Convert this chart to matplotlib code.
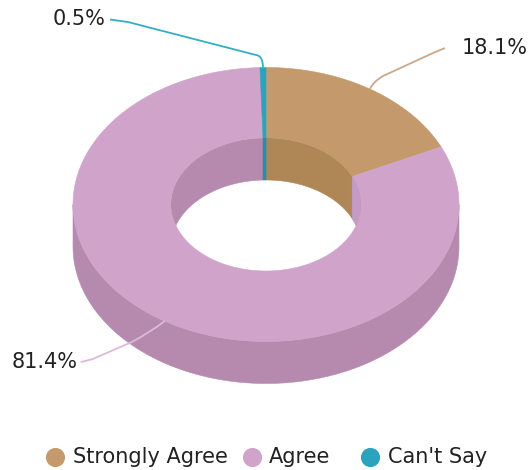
import numpy as np
import matplotlib
matplotlib.use("Agg")
import matplotlib.pyplot as plt
from matplotlib.patches import Polygon, Ellipse, PathPatch
from matplotlib.path import Path

categories = ["Strongly Agree", "Agree", "Can't Say"]
values = [18.1, 81.4, 0.5]
labels = ["18.1%", "81.4%", "0.5%"]
top_colors = ["#C49A6C", "#D0A3CB", "#2BA3BE"]
side_colors = ["#AF8656", "#B689AE", "#2290A8"]
line_colors = ["#C9A98A", "#DDBAD8", "#35AEC4"]

W, H = 529, 470
CX, CY = 266, 204.5
RX, RY = 193, 137
IRX, IRY = 95, 66.5
DEPTH = 42
FS = 15.0

fig = plt.figure(figsize=(W / 100, H / 100), dpi=100)
ax = fig.add_axes([0, 0, 1, 1])
ax.set_xlim(0, W)
ax.set_ylim(H, 0)
ax.axis("off")


def pt(deg, rx, ry, dy=0.0):
    a = np.radians(deg)
    return np.column_stack([CX + rx * np.sin(a), CY - ry * np.cos(a) + dy])


def arc(a0, a1):
    return np.linspace(a0, a1, max(int(abs(a1 - a0) * 2), 2))


total = sum(values)
edges = np.concatenate([[0], np.cumsum(values) / total * 360])

# outer side wall (front half)
for i in range(3):
    a0, a1 = max(edges[i], 90), min(edges[i + 1], 270)
    if a1 > a0:
        t = arc(a0, a1)
        ax.add_patch(Polygon(np.vstack([pt(t, RX, RY), pt(t[::-1], RX, RY, DEPTH)]),
                             fc=side_colors[i], ec=side_colors[i], lw=0.4, zorder=1))

# top face
for i in range(3):
    t = arc(edges[i], edges[i + 1])
    ax.add_patch(Polygon(np.vstack([pt(t, RX, RY), pt(t[::-1], IRX, IRY)]),
                         fc=top_colors[i], ec=top_colors[i], lw=0.4, zorder=2))

# inner wall (back half, seen through the hole)
hole = Ellipse((CX, CY), 2 * IRX, 2 * IRY, transform=ax.transData, fc="none", ec="none")
ax.add_patch(hole)
for i in range(3):
    spans = [(edges[i], min(edges[i + 1], 90)), (max(edges[i], 270), edges[i + 1])]
    for a0, a1 in spans:
        if a1 > a0:
            t = arc(a0, a1)
            p = Polygon(np.vstack([pt(t, IRX, IRY), pt(t[::-1], IRX, IRY, DEPTH)]),
                        fc=side_colors[i], ec=side_colors[i], lw=0.4, zorder=3)
            ax.add_patch(p)
            p.set_clip_path(hole)
# light sliver right of the brown wall
t = arc(edges[1], 90)
p = Polygon(np.vstack([pt(t, IRX, IRY), pt(t[::-1], IRX, IRY, DEPTH)]),
            fc="#C39BC4", ec="#C39BC4", lw=0.4, zorder=3)
ax.add_patch(p)
p.set_clip_path(hole)

# leader lines and labels
mid = (edges[:-1] + edges[1:]) / 2
leader_verts = [
    [(0, 0), (3, -7), (13, -13), (63, -36), (75, -41)],
    [(0, 0), (-14, 11), (-33, 21), (-72, 38), (-84, 41)],
    [(0, 0), (0, -10), (-5, -12), (-135, -45.5), (-153, -48)],
]
C3, LT = Path.CURVE3, Path.LINETO
text_pos = [(462, 48, "left"), (78, 362, "right"), (105, 19, "right")]
for i in range(3):
    a = pt(mid[i], RX, RY)[0]
    verts = [a + v for v in leader_verts[i]]
    codes = [Path.MOVETO, C3, C3, LT, LT]
    ax.add_patch(PathPatch(Path(verts, codes), fc="none", ec=line_colors[i], lw=1.3,
                           joinstyle="round", zorder=4))
    tx, ty, ha = text_pos[i]
    ax.text(tx, ty, labels[i], ha=ha, va="center", fontsize=FS, color="#222222", zorder=5)

# legend
leg_x = [55, 252, 370]
txt_x = [73, 269, 388]
for i in range(3):
    ax.scatter([leg_x[i]], [457], s=190, color=top_colors[i], linewidths=0, zorder=5)
    ax.text(txt_x[i], 457, categories[i], ha="left", va="center", fontsize=FS, color="#222222", zorder=5)

fig.savefig("out.png", dpi=100, facecolor="white")
